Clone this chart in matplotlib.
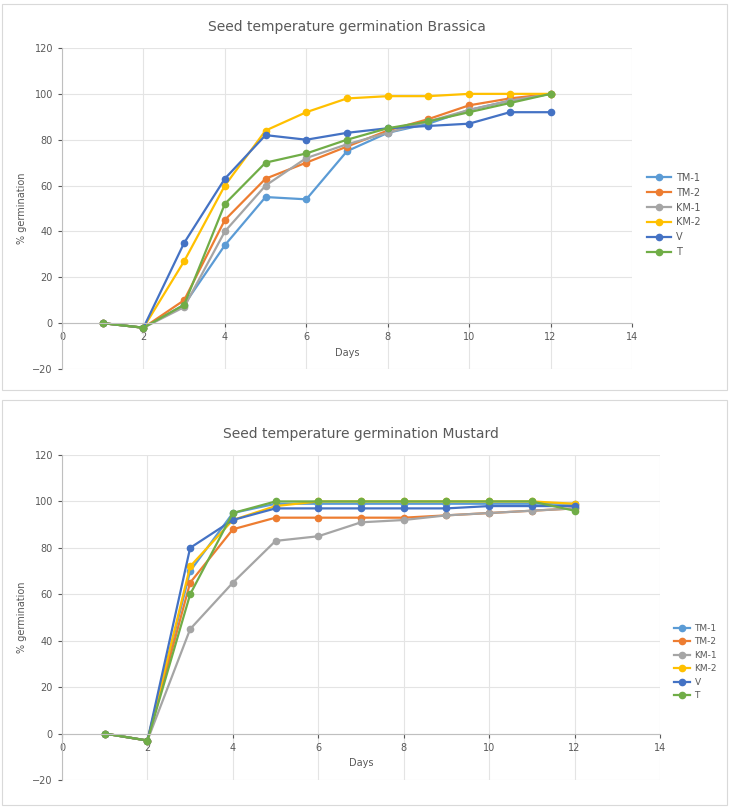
import matplotlib.pyplot as plt
from matplotlib.patches import Rectangle

days = [1, 2, 3, 4, 5, 6, 7, 8, 9, 10, 11, 12]
series_names = ["TM-1", "TM-2", "KM-1", "KM-2", "V", "T"]
colors = ["#5B9BD5", "#ED7D31", "#A5A5A5", "#FFC000", "#4472C4", "#70AD47"]

# top chart
top_s1 = [0, -2, 8, 34, 55, 54, 75, 83, 87, 93, 97, 100]
top_s2 = [0, -2, 10, 45, 63, 70, 77, 84, 89, 95, 98, 100]
top_s3 = [0, -2, 7, 40, 60, 72, 78, 83, 88, 93, 97, 100]
top_s4 = [0, -2, 27, 60, 84, 92, 98, 99, 99, 100, 100, 100]
top_s5 = [0, -2, 35, 63, 82, 80, 83, 85, 86, 87, 92, 92]
top_s6 = [0, -2, 8, 52, 70, 74, 80, 85, 88, 92, 96, 100]

# bottom chart
bot_s1 = [0, -3, 70, 95, 99, 99, 99, 99, 99, 99, 99, 99]
bot_s2 = [0, -3, 65, 88, 93, 93, 93, 93, 94, 95, 96, 97]
bot_s3 = [0, -3, 45, 65, 83, 85, 91, 92, 94, 95, 96, 97]
bot_s4 = [0, -3, 72, 92, 98, 100, 100, 100, 100, 100, 100, 99]
bot_s5 = [0, -3, 80, 92, 97, 97, 97, 97, 97, 98, 98, 98]
bot_s6 = [0, -3, 60, 95, 100, 100, 100, 100, 100, 100, 100, 96]

top_title = "Seed temperature germination Brassica"
bot_title = "Seed temperature germination Mustard"
ylabel = "% germination"
xlabel = "Days"

W, H = 729, 807
fig = plt.figure(figsize=(W / 100, H / 100), dpi=100)


def style_ax(ax, data, title, legend_pos, fs, hl):
    for vals, c, name in zip(data, colors, series_names):
        ax.plot(days, vals, color=c, lw=1.6, marker="o", ms=4.5, label=name)
    ax.set_xlim(0, 14)
    ax.set_ylim(-20, 120)
    ax.set_xticks(range(0, 15, 2))
    ax.set_yticks(range(-20, 121, 20))
    ax.grid(True, color="#e4e4e4", lw=0.8)
    ax.set_axisbelow(True)
    for s in ["top", "right"]:
        ax.spines[s].set_visible(False)
    ax.spines["bottom"].set_position(("data", 0))
    ax.spines["left"].set_position(("data", 0))
    ax.spines["bottom"].set_color("#bfbfbf")
    ax.spines["left"].set_color("#bfbfbf")
    ax.tick_params(colors="#595959", labelsize=7, length=3)
    ax.set_title(title, fontsize=10, color="#595959", pad=12)
    ax.set_ylabel(ylabel, fontsize=7, color="#595959")
    ax.set_xlabel(xlabel, fontsize=7, color="#595959")
    ax.legend(loc="center left", bbox_to_anchor=legend_pos, bbox_transform=fig.transFigure,
              frameon=False, fontsize=fs, labelcolor="#595959", handlelength=hl,
              borderaxespad=0, borderpad=0.2, handletextpad=0.5)


ax1 = fig.add_axes([62 / W, 1 - 369 / H, (632 - 62) / W, (369 - 48) / H])
style_ax(ax1, [top_s1, top_s2, top_s3, top_s4, top_s5, top_s6], top_title,
         (645 / W, 1 - 215 / H), 7, 2.5)

ax2 = fig.add_axes([62 / W, 1 - 780 / H, (660 - 62) / W, (780 - 455) / H])
style_ax(ax2, [bot_s1, bot_s2, bot_s3, bot_s4, bot_s5, bot_s6], bot_title,
         (672 / W, 1 - 662 / H), 6.5, 1.8)

# chart frames
fig.patches.append(Rectangle((2 / W, 1 - 390 / H), 725 / W, 386 / H, transform=fig.transFigure,
                             fill=False, ec="#d9d9d9", lw=0.8))
fig.patches.append(Rectangle((2 / W, 1 - 805 / H), 725 / W, 405 / H, transform=fig.transFigure,
                             fill=False, ec="#d9d9d9", lw=0.8))

fig.savefig("out.png", dpi=100)
